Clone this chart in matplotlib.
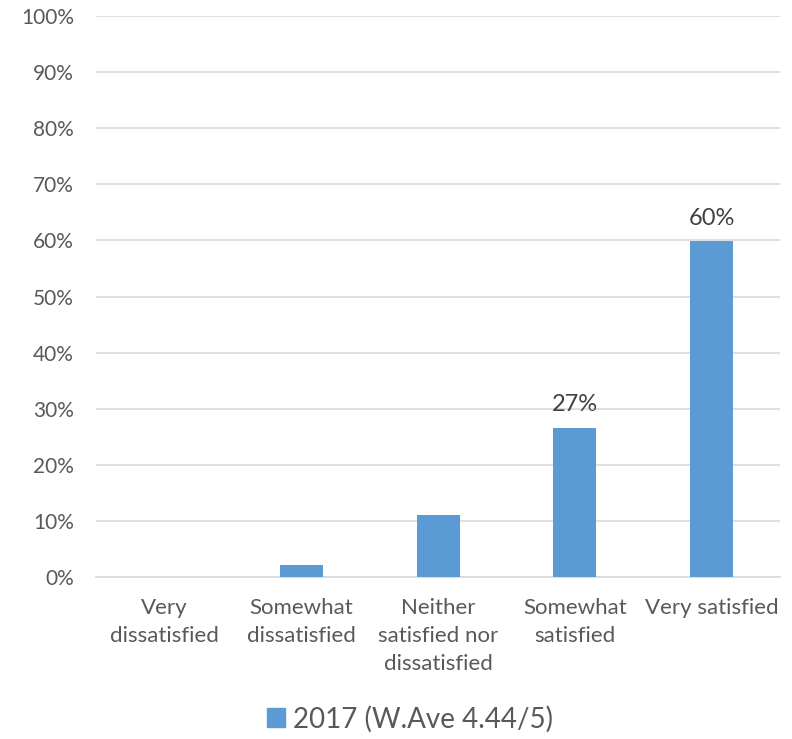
import matplotlib.pyplot as plt
from matplotlib.patches import Patch

categories = ["Very\ndissatisfied", "Somewhat\ndissatisfied",
              "Neither\nsatisfied nor\ndissatisfied", "Somewhat\nsatisfied",
              "Very satisfied"]
values = [0.0, 2.1, 11.0, 26.6, 59.9]
shown_labels = [None, None, None, "27%", "60%"]
series_name = "2017 (W.Ave 4.44/5)"
yticks = [0, 10, 20, 30, 40, 50, 60, 70, 80, 90, 100]

plt.rcParams['font.family'] = ['Lato', 'DejaVu Sans']

fig = plt.figure(figsize=(7.92, 7.39), dpi=100)
ax = fig.add_axes([0.1212, 0.2192, 0.8638, 0.7591])

x = range(len(categories))
bars = ax.bar(x, values, width=0.315, color="#5B9BD5", zorder=3)

# value labels only on the two largest answers
for rect, lab in zip(bars, shown_labels):
    if lab:
        ax.text(rect.get_x() + rect.get_width() / 2, rect.get_height() + 2.2, lab,
                ha="center", va="bottom", fontsize=17, color="#404040")

ax.set_ylim(0, 100)
ax.set_xlim(-0.5, len(categories) - 0.5)
ax.set_yticks(yticks)
ax.set_yticklabels([f"{t}%" for t in yticks], fontsize=15, color="#595959")
ax.set_xticks(list(x))
ax.set_xticklabels(categories, fontsize=16, color="#595959", linespacing=1.5)
ax.tick_params(axis="both", length=0)
ax.tick_params(axis="x", pad=15)
ax.tick_params(axis="y", pad=16)

ax.grid(axis="y", color="#D9D9D9", linewidth=1.2, zorder=0)
for side in ["top", "right", "left"]:
    ax.spines[side].set_visible(False)
ax.spines["bottom"].set_color("#D9D9D9")
ax.spines["bottom"].set_linewidth(1.2)

fig.legend(handles=[Patch(color="#5B9BD5", label=series_name)],
           loc="center", bbox_to_anchor=(0.518, 0.027), frameon=False,
           fontsize=20, handlelength=0.65, handleheight=0.65, handletextpad=0.3,
           labelcolor="#595959")

fig.savefig("out.png", dpi=100)
